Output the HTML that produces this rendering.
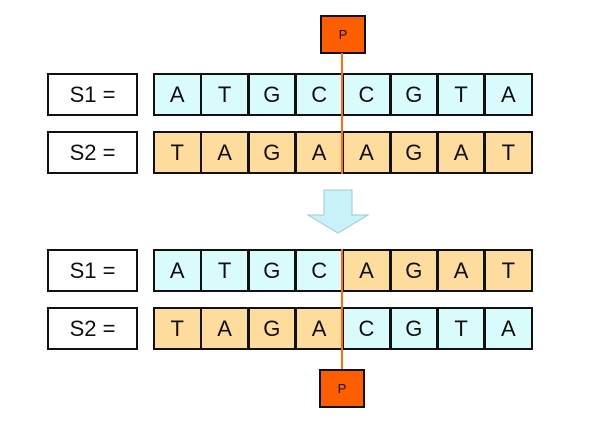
<!DOCTYPE html>
<html><head><style>
body{margin:0;width:594px;height:427px;background:#fff;font-family:"Liberation Sans",sans-serif;position:relative;overflow:hidden}
.b{position:absolute;box-sizing:border-box;border:2.5px solid #111;display:flex;align-items:center;justify-content:center;color:#111}
.lab{width:91px;height:43px;font-size:22px;background:#fff}
.c{width:48.5px;height:43px;font-size:22px}
.bl{background:#d9fbfc}.or{background:#fddc9e}
.p{background:#ff5e00;width:46px;height:39px;font-size:13px}
.ln{position:absolute;width:2px;background:#ff6a10;left:341px}
</style></head><body>
<div class="b lab" style="left:47px;top:73px">S1 =</div>
<div class="b lab" style="left:47px;top:131px">S2 =</div>
<div class="b lab" style="left:47px;top:249px">S1 =</div>
<div class="b lab" style="left:47px;top:307px">S2 =</div>
<div id="rows"></div>
<div class="b p" style="left:320px;top:15px">P</div>
<div class="b p" style="left:319px;top:369px">P</div>
<div class="ln" style="top:53px;height:121px"></div>
<div class="ln" style="top:249px;height:120px"></div>
<svg style="position:absolute;left:0;top:0" width="594" height="427"><polygon points="324,190 352,190 352,215 368,215 338,233 308,215 324,215" fill="#c9f2f8" stroke="#9cc" stroke-width="1"/></svg>
<script>
function row(top,s,cols){let h='';for(let i=0;i<8;i++){h+=`<div class="b c ${cols[i]}" style="left:${153+i*47.3}px;top:${top}px">${s[i]}</div>`}document.getElementById('rows').insertAdjacentHTML('beforeend',h)}
const B='bl',O='or';
row(73,'ATGCCGTA',[B,B,B,B,B,B,B,B]);
row(131,'TAGAAGAT',[O,O,O,O,O,O,O,O]);
row(249,'ATGCAGAT',[B,B,B,B,O,O,O,O]);
row(307,'TAGACGTA',[O,O,O,O,B,B,B,B]);
</script>
<style>.c.or:nth-child(n){}</style>
</body></html>
